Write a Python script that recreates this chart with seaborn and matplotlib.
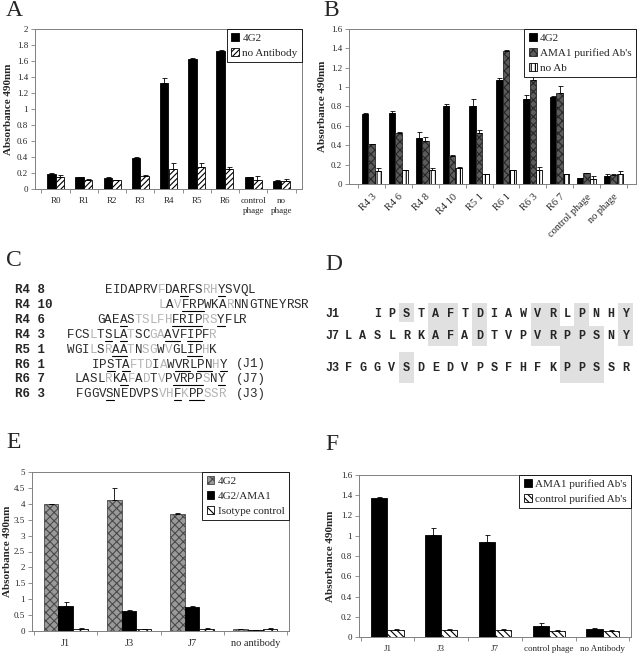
import numpy as np
import pandas as pd
import matplotlib
matplotlib.use("Agg")
import matplotlib.pyplot as plt
import seaborn as sns
from matplotlib.patches import Rectangle
from matplotlib.ticker import FuncFormatter

# ---------- panel A ----------
a_cats = ["R0", "R1", "R2", "R3", "R4", "R5", "R6", "control\nphage", "no\nphage"]
a_series = ["4G2", "no Antibody"]
a_4g2 = [0.19, 0.15, 0.14, 0.39, 1.33, 1.63, 1.73, 0.15, 0.10]
a_4g2_err = [0.005, 0.005, 0.005, 0.01, 0.06, 0.005, 0.01, 0.005, 0.01]
a_noab = [0.15, 0.11, 0.11, 0.16, 0.25, 0.27, 0.25, 0.11, 0.10]
a_noab_err = [0.03, 0.01, 0.005, 0.02, 0.08, 0.05, 0.02, 0.05, 0.03]

# ---------- panel B ----------
b_cats = ["R4 3", "R4 6", "R4 8", "R4 10", "R5 1", "R6 1", "R6 3", "R6 7",
          "control phage", "no phage"]
b_series = ["4G2", "AMA1 purified Ab's", "no Ab"]
b_4g2 = [0.72, 0.73, 0.47, 0.81, 0.81, 1.07, 0.88, 0.90, 0.06, 0.08]
b_4g2_err = [0.01, 0.02, 0.07, 0.02, 0.07, 0.02, 0.04, 0.01, 0.005, 0.02]
b_ama1 = [0.41, 0.53, 0.44, 0.29, 0.53, 1.37, 1.07, 0.94, 0.11, 0.09]
b_ama1_err = [0.005, 0.005, 0.04, 0.01, 0.03, 0.01, 0.14, 0.07, 0.005, 0.01]
b_noab = [0.13, 0.14, 0.14, 0.17, 0.10, 0.14, 0.14, 0.10, 0.05, 0.10]
b_noab_err = [0.03, 0.005, 0.02, 0.005, 0.005, 0.005, 0.04, 0.005, 0.03, 0.03]

# ---------- panel C (sequences, gray positions, underlined positions) ----------
c_labels = ["R4 8", "R4 10", "R4 6", "R4 3", "R5 1", "R6 1", "R6 7", "R6 3"]
c_seqs = ["EIDAPRVFDARFSRHYSVQL", "LAVFRPWKARNNGTNEYRSR", "GAEASTSLFHFRIPRSYFLR",
          "FCSLTSLATSCGAAVFIPFR", "WGILSRAATNSGWVGLIPHK", "IPSTAFTDIAWVRLPNHY",
          "LASLRKAFADTVPVRPPSNY", "FGGVSNEDVPSVHFKPPSSR"]
c_start = [105, 159, 97, 67, 67, 92, 75, 76]
c_gray = [[7, 13, 14], [0, 2, 9], [5, 6, 7, 8, 9, 14, 15], [3, 8, 11, 12, 19],
          [3, 5, 8, 10, 11, 13, 18], [5, 6, 7, 9, 16], [4, 7, 9, 11, 17],
          [11, 12, 14, 17, 18, 19]]
c_under = [[10, 15], [3, 4, 5], [3, 10, 11, 12, 13, 16], [5, 7, 13, 14, 16, 17],
           [6, 7, 16, 17], [2, 4, 11, 12, 14, 15, 17], [6, 13, 14, 15, 16, 19],
           [4, 13, 15, 16]]
c_tags = ["", "", "", "", "", "(J1)", "(J7)", "(J3)"]

# ---------- panel D ----------
d_labels = ["J1", "J7", "J3"]
d_seqs = ["IPSTAFTDIAWVRLPNHY", "LASLRKAFADTVPVRPPSNY", "FGGVSDEDVPSFHFKPPSSR"]
d_offset = [2, 0, 0]
# shaded blocks: (first col, last col, top px, bottom px)
d_boxes = [(4, 4, 303, 322), (6, 7, 303, 346), (9, 9, 303, 346), (13, 14, 303, 346),
           (16, 16, 303, 346), (19, 19, 303, 346), (15, 17, 326, 383), (4, 4, 352, 383)]

# ---------- panel E ----------
e_cats = ["J1", "J3", "J7", "no antibody"]
e_series = ["4G2", "4G2/AMA1", "Isotype control"]
e_4g2 = [3.98, 4.12, 3.68, 0.05]
e_4g2_err = [0.02, 0.38, 0.03, 0.01]
e_ama1 = [0.79, 0.62, 0.75, 0.02]
e_ama1_err = [0.11, 0.03, 0.03, 0.005]
e_iso = [0.06, 0.06, 0.07, 0.06]
e_iso_err = [0.02, 0.01, 0.03, 0.02]

# ---------- panel F ----------
f_cats = ["J1", "J3", "J7", "control phage", "no Antibody"]
f_series = ["AMA1 purified Ab's", "control purified Ab's"]
f_ama1 = [1.37, 1.01, 0.94, 0.11, 0.08]
f_ama1_err = [0.01, 0.07, 0.07, 0.03, 0.005]
f_ctrl = [0.07, 0.07, 0.07, 0.06, 0.06]
f_ctrl_err = [0.005, 0.005, 0.005, 0.005, 0.005]

sns.set_theme(style="white")
plt.rcParams["font.family"] = ["Liberation Serif", "DejaVu Serif"]
plt.rcParams["hatch.linewidth"] = 0.8

W, H = 638, 658
fig = plt.figure(figsize=(W / 100, H / 100), dpi=100)

# overlay in pixel coordinates for the text panels and panel letters
ov = fig.add_axes([0, 0, 1, 1])
ov.set_xlim(0, W)
ov.set_ylim(H, 0)
ov.axis("off")


def px_axes(x0, y0, x1, y1):
    return fig.add_axes([x0 / W, 1 - y1 / H, (x1 - x0) / W, (y1 - y0) / H])


BLACK = dict(fc="black", hatch=None, ec="black")
STYLE_A_NO = dict(fc="white", hatch="//////", ec="black")
STYLE_B_AMA = dict(fc="#5c5c5c", hatch="xxxx", ec="#262626")
STYLE_B_NO = dict(fc="white", hatch="||||", ec="black")
STYLE_E_4G2 = dict(fc="#9a9a9a", hatch="xxxx", ec="#4a4a4a")
STYLE_E_ISO = dict(fc="white", hatch="\\\\\\\\", ec="black")
STYLE_F_CTRL = dict(fc="white", hatch="\\\\\\\\\\", ec="black")


def bar_panel(ax, cats, series, values, errors, styles, width, ymax, step,
              xfs=7, rot=0, ylab_pad=3):
    rows = []
    for s, vals in zip(series, values):
        for c, v in zip(cats, vals):
            rows.append((c, s, v))
    df = pd.DataFrame(rows, columns=["cat", "series", "val"])
    sns.barplot(data=df, x="cat", y="val", hue="series", order=cats, hue_order=series,
                palette=[st["fc"] for st in styles], width=width, errorbar=None,
                saturation=1, edgecolor="black", linewidth=0.6, legend=False, ax=ax)
    bars = list(ax.containers)
    for cont, st, err in zip(bars, styles, errors):
        for p in cont.patches:
            p.set_facecolor(st["fc"])
            p.set_edgecolor(st["ec"])
            if st["hatch"]:
                p.set_hatch(st["hatch"])
        xs = [p.get_x() + p.get_width() / 2 for p in cont.patches]
        hs = [p.get_height() for p in cont.patches]
        ax.errorbar(xs, hs, yerr=[np.zeros(len(err)), err], fmt="none", ecolor="black",
                    elinewidth=0.6, capsize=1.8, capthick=0.6)
    leg = ax.legend(bars, series, loc="upper right", fontsize=8, frameon=True,
                    fancybox=False, framealpha=1, edgecolor="black", borderaxespad=0,
                    handlelength=0.7, handleheight=0.7, handletextpad=0.3,
                    labelspacing=0.45, borderpad=0.4)
    leg.get_frame().set_linewidth(0.6)
    ax.set_ylim(0, ymax)
    ax.set_yticks(np.arange(0, ymax + step / 2, step))
    ax.yaxis.set_major_formatter(FuncFormatter(lambda v, p: f"{v:g}"))
    n = len(cats)
    ax.set_xticks(np.arange(-0.5, n, 1), minor=True)
    ax.tick_params(axis="x", which="major", length=0, labelsize=xfs, pad=6)
    ax.tick_params(axis="x", which="minor", length=3, width=0.6, color="#808080",
                   direction="out", bottom=True)
    ax.tick_params(axis="y", which="major", length=3, width=0.6, color="#808080",
                   direction="out", left=True, labelsize=6.5, pad=2)
    if rot:
        plt.setp(ax.get_xticklabels(), rotation=rot, ha="right", rotation_mode="anchor")
    for sp in ax.spines.values():
        sp.set_color("#808080")
        sp.set_linewidth(0.7)
    ax.set_xlabel("")
    ax.set_ylabel("Absorbance 490nm", fontsize=8, fontweight="bold", labelpad=ylab_pad)


axA = px_axes(35, 29, 302, 189)
bar_panel(axA, a_cats, a_series, [a_4g2, a_noab], [a_4g2_err, a_noab_err],
          [BLACK, STYLE_A_NO], 0.6, 2, 0.2, xfs=6.5, ylab_pad=3)

axB = px_axes(349, 29, 636, 184)
bar_panel(axB, b_cats, b_series, [b_4g2, b_ama1, b_noab], [b_4g2_err, b_ama1_err, b_noab_err],
          [BLACK, STYLE_B_AMA, STYLE_B_NO], 0.72, 1.6, 0.2, xfs=7.5, rot=45, ylab_pad=3)

axE = px_axes(32, 472, 289, 631)
bar_panel(axE, e_cats, e_series, [e_4g2, e_ama1, e_iso], [e_4g2_err, e_ama1_err, e_iso_err],
          [STYLE_E_4G2, BLACK, STYLE_E_ISO], 0.7, 5, 0.5, xfs=7.5, ylab_pad=1.5)

axF = px_axes(359, 475, 631, 637)
bar_panel(axF, f_cats, f_series, [f_ama1, f_ctrl], [f_ama1_err, f_ctrl_err],
          [BLACK, STYLE_F_CTRL], 0.6, 1.6, 0.2, xfs=6.5, ylab_pad=4)

# ---------- panel letters ----------
for letter, (x, y) in zip("ABCDEF", [(6, 10), (323, 10), (6, 261), (325, 264), (6, 443), (325, 444)]):
    ov.text(x, y, letter, fontsize=17, ha="left", va="center", family="Liberation Serif")

# ---------- panel C ----------
cw = 7.5
for i, (lab, seq, x0, gray, und, tag) in enumerate(zip(c_labels, c_seqs, c_start, c_gray,
                                                        c_under, c_tags)):
    y = 290 + 14.9 * i
    ov.text(15, y, lab, fontsize=9, fontweight="bold", family="Liberation Mono",
            ha="left", va="center")
    for j, ch in enumerate(seq):
        col = "#b4b4b4" if j in gray else "#2a2a2a"
        ov.text(x0 + j * cw, y, ch, fontsize=9, family="Liberation Mono", color=col,
                ha="left", va="center")
        if j in und:
            ov.plot([x0 + j * cw, x0 + (j + 1) * cw], [y + 6, y + 6], color="black", lw=0.8)
    if tag:
        ov.text(236, y, tag, fontsize=9, family="Liberation Mono", color="#2a2a2a",
                ha="left", va="center")

# ---------- panel D ----------
dx0, dcw = 348, 14.6
for c0, c1, top, bot in d_boxes:
    ov.add_patch(Rectangle((dx0 + c0 * dcw - dcw / 2, top), (c1 - c0 + 1) * dcw, bot - top,
                           facecolor="#e0e0e0", edgecolor="none", zorder=0))
for lab, seq, off, y in zip(d_labels, d_seqs, d_offset, [314, 336, 368]):
    ov.text(325, y, lab, fontsize=8.5, fontweight="bold", family="Liberation Mono",
            ha="left", va="center")
    for j, ch in enumerate(seq):
        ov.text(dx0 + (j + off) * dcw, y, ch, fontsize=8.5, fontweight="bold",
                family="Liberation Mono", ha="center", va="center", zorder=2)

fig.savefig("out.png", dpi=100)
